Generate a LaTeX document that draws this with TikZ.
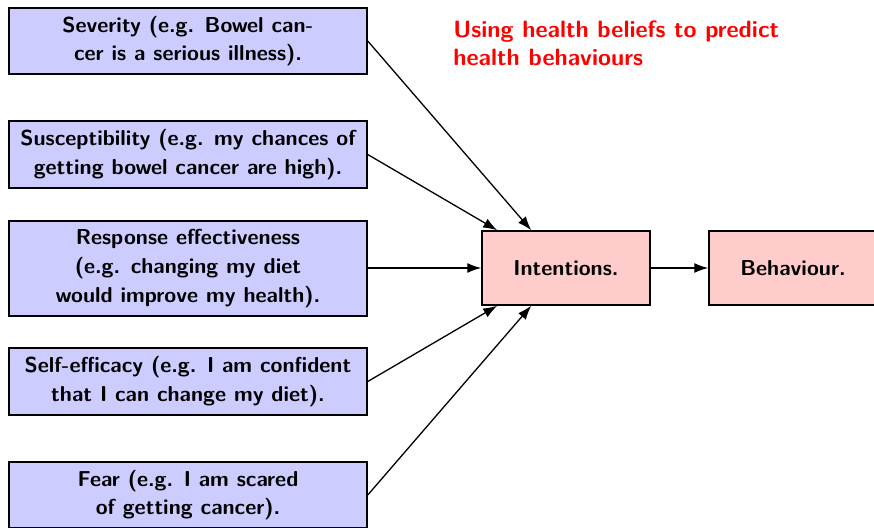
\documentclass[tikz,border=0pt]{standalone}
\usetikzlibrary{arrows.meta,calc}

\definecolor{beliefblue}{RGB}{204,204,255}
\definecolor{outcomered}{RGB}{255,204,204}

\tikzset{
  every node/.style={font=\sffamily\bfseries\fontsize{10.8}{14.35}\selectfont},
  belief/.style={draw, line width=0.75pt, fill=beliefblue, align=center,
    minimum width=179pt, inner sep=0pt},
  outcome/.style={draw, line width=0.75pt, fill=outcomered, align=center,
    minimum width=84pt, minimum height=37pt, inner sep=0pt},
  heading/.style={font=\sffamily\bfseries\fontsize{11.8}{14}\selectfont,
    text=red, align=left, inner sep=0pt},
  link/.style={line width=0.65pt, -{Latex[length=7pt,width=5pt]}},
}

\begin{document}
\begin{tikzpicture}[x=0.5pt, y=-0.5pt]
  \useasboundingbox (0,0) rectangle (874,527);

  % belief boxes on the left
  \node[belief, minimum height=33pt] (sev)  at (188,41)
    {Severity (e.g. Bowel can-\\cer is a serious illness).};
  \node[belief, minimum height=33.5pt] (sus) at (188,154.5)
    {Susceptibility (e.g. my chances of\\getting bowel cancer are high).};
  \node[belief, minimum height=47.5pt] (resp) at (188,268.5)
    {Response effectiveness\\(e.g. changing my diet\\would improve my health).};
  \node[belief, minimum height=33.5pt] (self) at (188,381.5)
    {Self-efficacy (e.g. I am confident\\that I can change my diet).};
  \node[belief, minimum height=33pt] (fear) at (188,495)
    {Fear (e.g. I am scared\\of getting cancer).};

  % outcome boxes
  \node[outcome] (int) at (566,268) {Intentions.};
  \node[outcome] (beh) at (793,268) {Behaviour.};

  % title
  \node[heading, anchor=north west] (title) at (453,20)
    {Using health beliefs to predict\\health behaviours};

  % connectors
  \draw[link] (sev.east)  -- ($(int.north west)+(50,0)$);
  \draw[link] (sus.east)  -- ($(int.north west)+(16,0)$);
  \draw[link] (resp.east |- int.west) -- (int.west);
  \draw[link] (self.east) -- ($(int.south west)+(16,0)$);
  \draw[link] (fear.east) -- ($(int.south west)+(50,0)$);
  \draw[link] (int.east) -- (beh.west);
\end{tikzpicture}
\end{document}
